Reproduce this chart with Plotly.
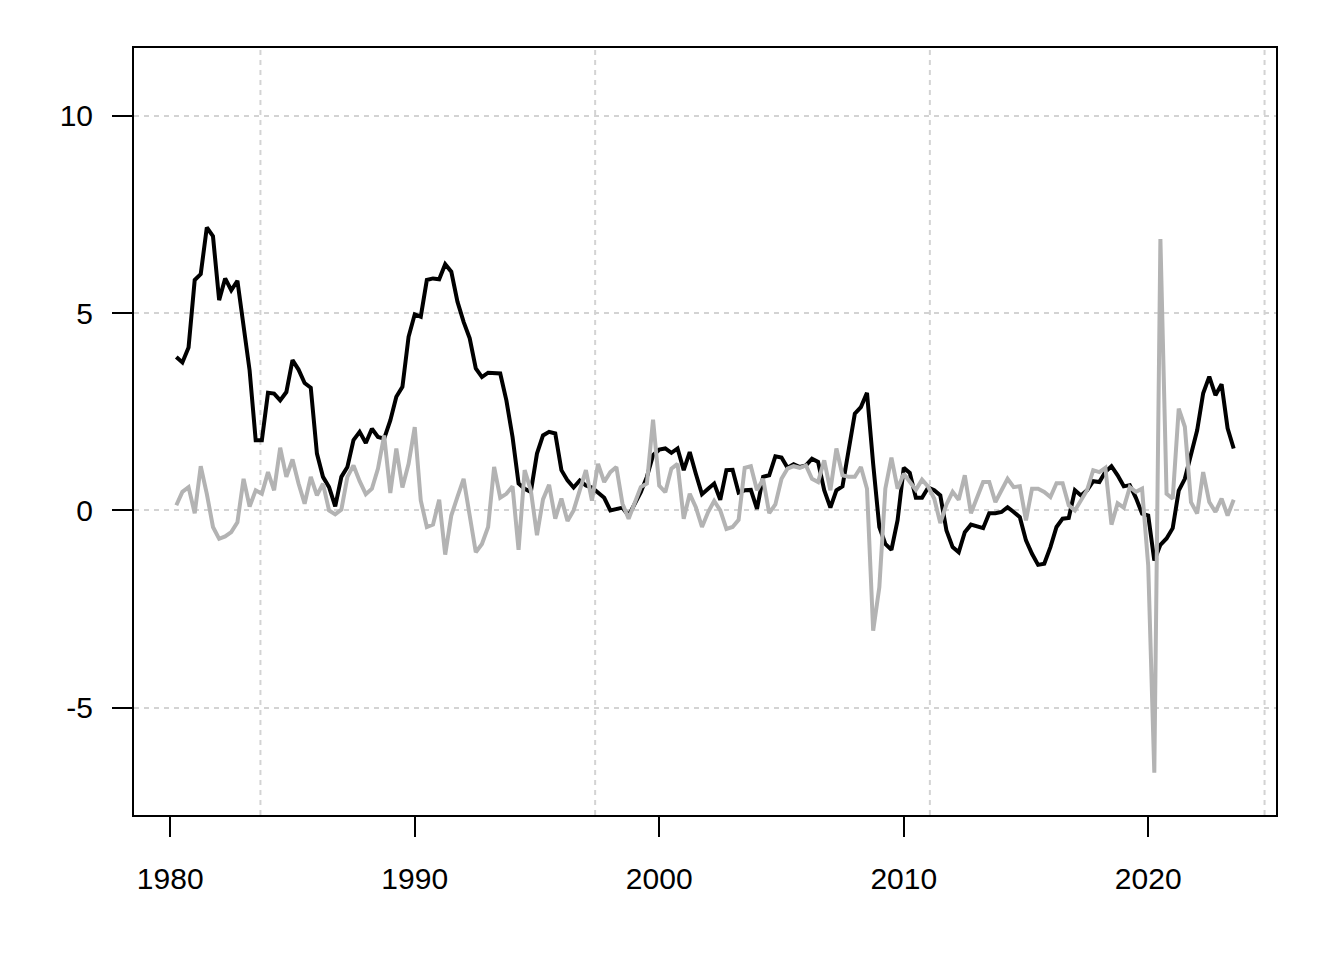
import numpy as np
import pandas as pd
import plotly.graph_objects as go

# Quarterly series, 1980Q2 .. 2023Q3
START_DATE = "1980-04-01"

black_series = [
    3.89, 3.75, 4.13, 5.84, 5.99, 7.17, 6.95, 5.33, 5.88, 5.58,
    5.82, 4.75, 3.55, 1.78, 1.78, 2.98, 2.96, 2.79, 3.00, 3.81,
    3.57, 3.23, 3.11, 1.44, 0.85, 0.59, 0.10, 0.85, 1.10, 1.78,
    1.99, 1.71, 2.07, 1.86, 1.82, 2.28, 2.88, 3.13, 4.40, 4.97,
    4.91, 5.84, 5.88, 5.86, 6.24, 6.05, 5.29, 4.78, 4.36, 3.60,
    3.38, 3.49, 3.49, 3.47, 2.79, 1.86, 0.68, 0.55, 0.47, 1.44,
    1.90, 1.99, 1.95, 1.02, 0.76, 0.58, 0.76, 0.63, 0.58, 0.46,
    0.32, 0.00, 0.04, 0.07, -0.13, 0.17, 0.46, 0.85, 1.40, 1.54,
    1.57, 1.46, 1.57, 1.02, 1.48, 0.93, 0.41, 0.55, 0.68, 0.27,
    1.02, 1.03, 0.45, 0.51, 0.52, 0.04, 0.85, 0.89, 1.37, 1.34,
    1.08, 1.17, 1.10, 1.14, 1.31, 1.23, 0.51, 0.07, 0.51, 0.61,
    1.61, 2.45, 2.62, 2.98, 1.18, -0.42, -0.85, -1.00, -0.25, 1.08,
    0.95, 0.32, 0.32, 0.58, 0.51, 0.38, -0.51, -0.93, -1.06, -0.55,
    -0.36, -0.41, -0.45, -0.07, -0.07, -0.04, 0.08, -0.04, -0.17, -0.76,
    -1.10, -1.38, -1.35, -0.93, -0.42, -0.21, -0.19, 0.51, 0.38, 0.51,
    0.74, 0.72, 0.98, 1.12, 0.89, 0.61, 0.64, 0.32, -0.08, -0.13,
    -1.27, -0.87, -0.71, -0.45, 0.50, 0.80, 1.44, 2.03, 2.97, 3.39,
    2.92, 3.20, 2.08, 1.57,
]

gray_series = [
    0.13, 0.47, 0.59, -0.07, 1.12, 0.42, -0.42, -0.72, -0.66, -0.55,
    -0.30, 0.80, 0.10, 0.51, 0.42, 0.97, 0.51, 1.59, 0.85, 1.29,
    0.68, 0.17, 0.85, 0.38, 0.68, 0.00, -0.10, 0.02, 0.85, 1.14,
    0.74, 0.41, 0.55, 1.06, 1.90, 0.44, 1.57, 0.58, 1.18, 2.11,
    0.25, -0.42, -0.36, 0.27, -1.12, -0.13, 0.34, 0.80, -0.13, -1.06,
    -0.85, -0.42, 1.10, 0.32, 0.42, 0.61, -1.00, 1.02, 0.51, -0.63,
    0.28, 0.65, -0.21, 0.30, -0.27, 0.00, 0.51, 1.02, 0.25, 1.18,
    0.72, 0.97, 1.10, 0.17, -0.21, 0.17, 0.59, 0.68, 2.30, 0.63,
    0.46, 1.06, 1.18, -0.21, 0.42, 0.08, -0.42, -0.04, 0.24, 0.00,
    -0.47, -0.42, -0.24, 1.08, 1.12, 0.51, 0.80, -0.07, 0.15, 0.80,
    1.06, 1.12, 1.08, 1.14, 0.80, 0.72, 1.27, 0.51, 1.57, 0.89,
    0.85, 0.85, 1.10, 0.55, -3.05, -1.95, 0.55, 1.34, 0.55, 0.93,
    0.74, 0.52, 0.78, 0.60, 0.30, -0.32, 0.15, 0.47, 0.27, 0.89,
    -0.07, 0.34, 0.72, 0.72, 0.21, 0.51, 0.80, 0.59, 0.61, -0.25,
    0.55, 0.55, 0.47, 0.34, 0.69, 0.69, 0.13, 0.00, 0.25, 0.51,
    1.02, 0.97, 1.08, -0.36, 0.18, 0.07, 0.59, 0.47, 0.55, -1.40,
    -6.65, 6.88, 0.42, 0.30, 2.58, 2.12, 0.21, -0.08, 0.97, 0.21,
    -0.04, 0.30, -0.13, 0.27,
]

x_tick_years = [1980, 1990, 2000, 2010, 2020]
y_tick_values = [-5, 0, 5, 10]
y_limits = [-7, 11]

dates = pd.date_range(START_DATE, periods=len(black_series), freq="QS")

# R-style 4% axis extension
d0, d1 = dates[0], dates[-1]
span = d1 - d0
x_range = [d0 - 0.04 * span, d1 + 0.04 * span]
y_span = y_limits[1] - y_limits[0]
y_range = [y_limits[0] - 0.04 * y_span, y_limits[1] + 0.04 * y_span]

FONT = "Liberation Sans, Arial, Helvetica, sans-serif"
GRID_COLOR = "#d3d3d3"

fig = go.Figure()
fig.add_trace(go.Scatter(x=dates, y=black_series, mode="lines",
                         line=dict(color="black", width=4), showlegend=False))
fig.add_trace(go.Scatter(x=dates, y=gray_series, mode="lines",
                         line=dict(color="#b3b3b3", width=4), showlegend=False))

# vertical grid lines as R's grid() on a Date axis: every 5000 days since epoch
epoch = pd.Timestamp("1970-01-01")
k = int(np.ceil((x_range[0] - epoch).days / 5000))
shapes = []
while True:
    gx = epoch + pd.Timedelta(days=5000 * k)
    if gx > x_range[1]:
        break
    shapes.append(dict(type="line", xref="x", yref="paper", x0=gx, x1=gx, y0=0, y1=1,
                       line=dict(color=GRID_COLOR, width=2, dash="5px,5px"), layer="below"))
    k += 1

fig.update_layout(
    width=1336, height=952,
    margin=dict(l=126, r=68, t=40, b=145),
    paper_bgcolor="white", plot_bgcolor="white",
    font=dict(family=FONT, size=30, color="black"),
    shapes=shapes,
    xaxis=dict(
        range=x_range, type="date",
        tickvals=[pd.Timestamp(f"{y}-01-01") for y in x_tick_years],
        ticktext=[str(y) for y in x_tick_years],
        ticks="outside", ticklen=20, tickwidth=2, tickcolor="black",
        showgrid=False, zeroline=False,
        showline=True, linecolor="black", linewidth=2, mirror=True,
        tickfont=dict(size=30), ticklabelstandoff=16,
    ),
    yaxis=dict(
        range=y_range,
        tickvals=y_tick_values, ticktext=[str(v) for v in y_tick_values],
        ticks="outside", ticklen=20, tickwidth=2, tickcolor="black",
        showgrid=True, gridcolor=GRID_COLOR, gridwidth=2, griddash="5px,5px",
        zeroline=False,
        showline=True, linecolor="black", linewidth=2, mirror=True,
        tickfont=dict(size=30), ticklabelstandoff=13,
    ),
)

fig.write_html("out.html")
